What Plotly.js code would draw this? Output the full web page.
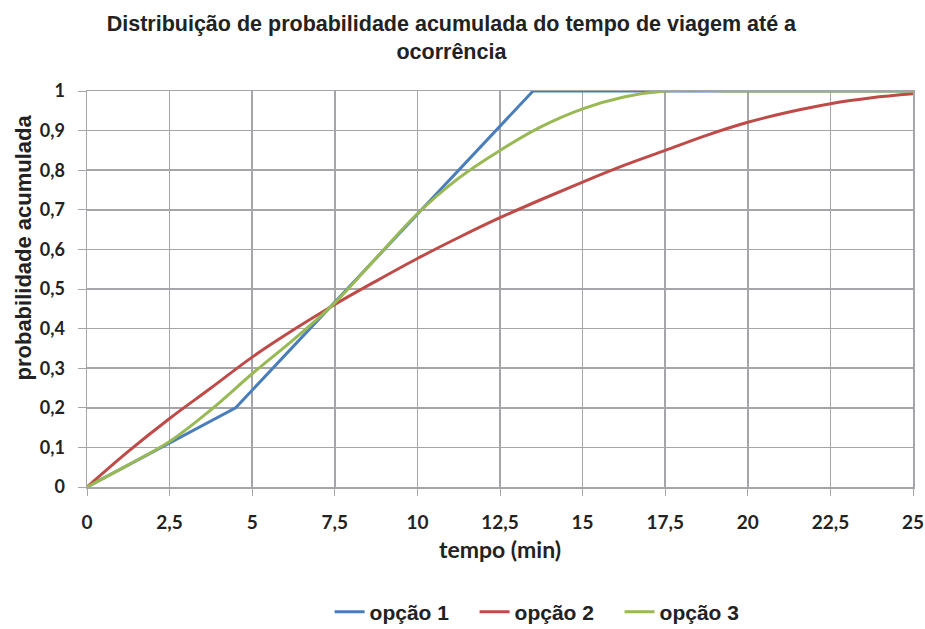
<!DOCTYPE html>
<html>
<head>
<meta charset="utf-8">
<script src="https://cdn.plot.ly/plotly-3.0.1.min.js"></script>
<style>html,body{margin:0;padding:0;background:#fff;}#chart{width:925px;height:629px;}</style>
</head>
<body>
<div id="chart"></div>
<script>
const seriesNames = ["opção 1", "opção 2", "opção 3"];
const op1X = [0, 2.5, 4.5, 13.5, 25];
const op1Y = [0, 0.11, 0.2, 1, 1];
const op2X = [0, 1.25, 2.5, 3.75, 5, 6.25, 7.5, 8.75, 10, 11.25, 12.5, 13.75, 15, 16.25, 17.5, 18.75, 20, 21.25, 22.5, 23.75, 25];
const op2Y = [0, 0.09, 0.173, 0.25, 0.328, 0.397, 0.461, 0.52, 0.577, 0.63, 0.68, 0.726, 0.77, 0.812, 0.85, 0.888, 0.921, 0.947, 0.968, 0.983, 0.993];
const op3X = [0, 1.25, 2.5, 3.75, 5, 6.25, 7.5, 8.75, 10, 11.25, 12.5, 13.75, 15, 16.25, 17.5, 20, 22.5, 25];
const op3Y = [0, 0.056, 0.115, 0.195, 0.286, 0.372, 0.465, 0.578, 0.69, 0.78, 0.85, 0.91, 0.955, 0.985, 1, 1, 1, 1];
const xTickVals = [0, 2.5, 5, 7.5, 10, 12.5, 15, 17.5, 20, 22.5, 25];
const yTickVals = [0, 0.1, 0.2, 0.3, 0.4, 0.5, 0.6, 0.7, 0.8, 0.9, 1];
const titleText = "Distribuição de probabilidade acumulada do tempo de viagem até a<br>ocorrência";
const xTitle = "tempo (min)";
const yTitle = "probabilidade acumulada";
const colors = ["#4A7EBB", "#BE4B48", "#98B954"];

const F = "Liberation Sans, Arial, sans-serif";
const FC = "Lato, Carlito, Calibri, sans-serif";
const traces = [
  {x: op1X, y: op1Y, name: seriesNames[0], mode: "lines", line: {color: colors[0], width: 3}},
  {x: op2X, y: op2Y, name: seriesNames[1], mode: "lines", line: {color: colors[1], width: 3, shape: "spline"}},
  {x: op3X, y: op3Y, name: seriesNames[2], mode: "lines", line: {color: colors[2], width: 3, shape: "spline"}}
];
const layout = {
  width: 925, height: 629,
  separators: ",.",
  paper_bgcolor: "#fff", plot_bgcolor: "#fff",
  margin: {l: 87, r: 12, t: 91, b: 142, autoexpand: false},
  title: {text: titleText,
    font: {family: F, size: 21.5, color: "#222", weight: "bold"}, x: 0.488, xanchor: "center", y: 0.950, yanchor: "top"},
  xaxis: {range: [0, 25], tickvals: xTickVals, showgrid: true, gridcolor: "#A6A6AA", gridwidth: 1.5,
    zeroline: false, showline: true, linecolor: "#A6A6AA", linewidth: 1.5, mirror: true,
    ticks: "outside", ticklen: 7, tickcolor: "#A6A6AA", ticklabelstandoff: 11,
    tickfont: {family: FC, size: 19, color: "#222", weight: "bold"},
    title: {text: xTitle, font: {family: FC, size: 23, color: "#222", weight: "bold"}, standoff: 9}},
  yaxis: {range: [0, 1], tickvals: yTickVals, showgrid: true, gridcolor: "#A6A6AA", gridwidth: 1.5,
    zeroline: false, showline: true, linecolor: "#A6A6AA", linewidth: 1.5, mirror: true,
    ticks: "outside", ticklen: 8, tickcolor: "#A6A6AA", ticklabelstandoff: 9,
    tickfont: {family: FC, size: 18, color: "#222", weight: "bold"}},
  annotations: [{text: yTitle, xref: "paper", yref: "paper", x: (23 - 87) / 826, y: (487 - 247.5) / 396,
    xanchor: "center", yanchor: "middle", textangle: -90, showarrow: false,
    font: {family: F, size: 22, color: "#222", weight: "bold"}}],
  legend: {orientation: "h", x: 0.557, xanchor: "center", xref: "paper", yref: "container", y: (629 - 612) / 629, yanchor: "middle",
    font: {family: F, size: 21, color: "#222", weight: "bold"}, entrywidth: 100, entrywidthmode: "pixels", tracegroupgap: 0},
  showlegend: true
};
Plotly.newPlot("chart", traces, layout, {displayModeBar: false, staticPlot: true});
</script>
</body>
</html>
